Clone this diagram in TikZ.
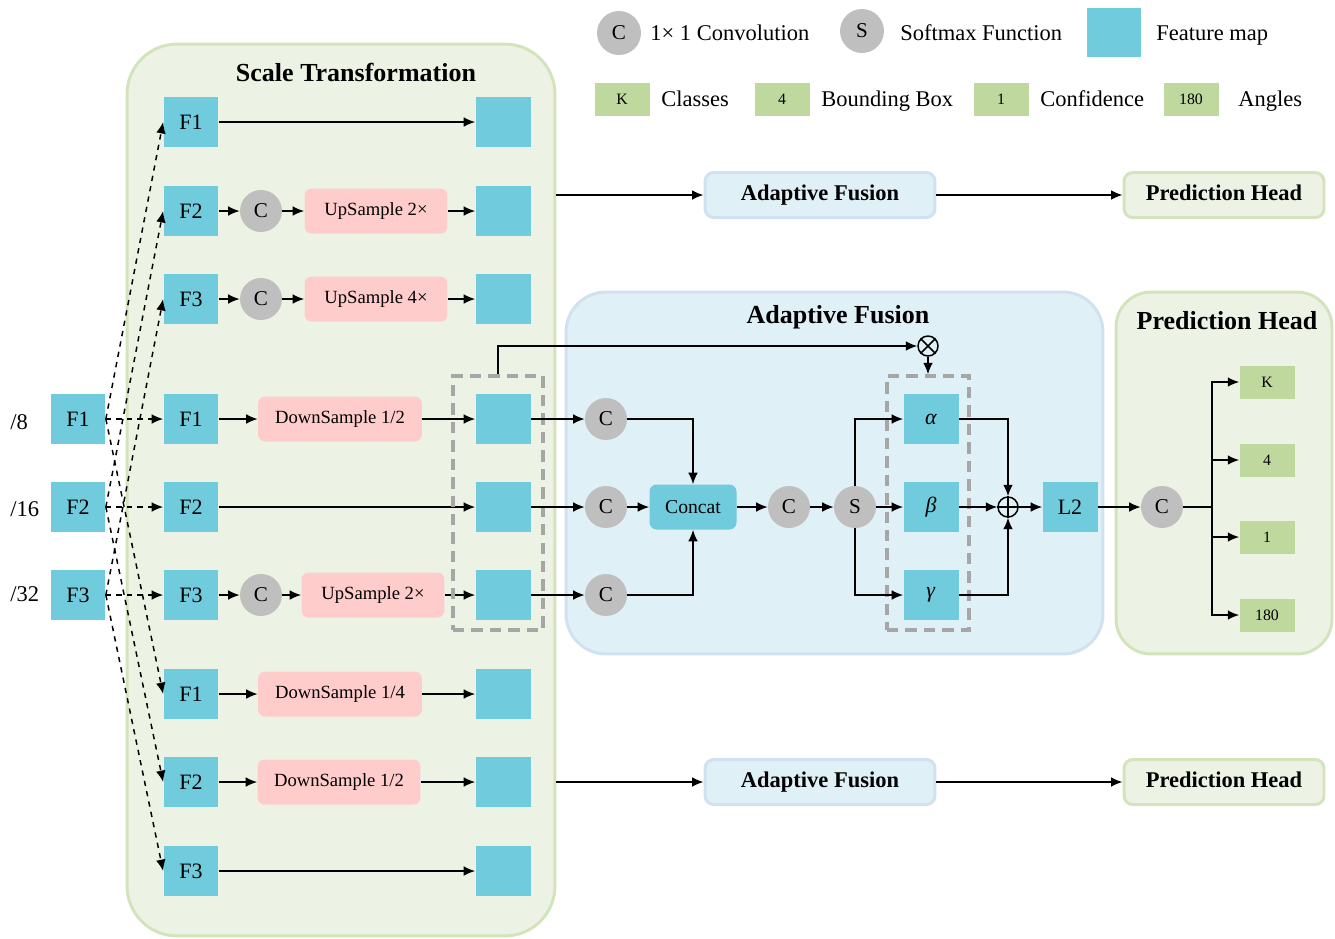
\documentclass[tikz,border=0pt]{standalone}
\usepackage{fontspec}
\setmainfont{Liberation Serif}
\usepackage{xcolor}
\usepackage{tikz}
\usetikzlibrary{arrows.meta,positioning,calc}
\definecolor{fmapc}{RGB}{112,203,220}
\definecolor{convc}{RGB}{191,191,191}
\definecolor{sampc}{RGB}{255,204,204}
\definecolor{outc}{RGB}{190,216,158}
\definecolor{stfill}{RGB}{237,243,228}
\definecolor{stedge}{RGB}{211,228,188}
\definecolor{affill}{RGB}{223,240,247}
\definecolor{afedge}{RGB}{208,226,240}
\definecolor{dashc}{RGB}{166,166,166}

\begin{document}
\begin{tikzpicture}[x=0.02cm,y=-0.02cm,
  fmap/.style={fill=fmapc,minimum width=1.1cm,minimum height=1cm,inner sep=0pt,font=\fontsize{12.5}{14}\selectfont},
  conv/.style={circle,fill=convc,minimum size=0.84cm,inner sep=0pt,font=\fontsize{12}{14}\selectfont},
  samp/.style={fill=sampc,rounded corners=4pt,minimum height=0.9cm,inner sep=0pt,font=\fontsize{10.6}{12}\selectfont},
  outb/.style={fill=outc,minimum width=1.1cm,minimum height=0.66cm,inner sep=0pt,font=\fontsize{9}{11}\selectfont},
  grp/.style={rounded corners=1cm,line width=1.7pt,inner sep=0pt},
  grptitle/.style={font=\fontsize{14.8}{17}\selectfont\bfseries},
  smallgrp/.style={rounded corners=5pt,line width=1.7pt,minimum height=0.9cm,inner sep=0pt,text height=0.68em,text depth=0.02em,font=\fontsize{12.8}{15}\selectfont\bfseries},
  txt/.style={font=\fontsize{12.8}{15}\selectfont,anchor=base west,inner sep=0pt},
  gbox/.style={draw=dashc,line width=2pt,dash pattern=on 6.5pt off 4pt,inner sep=0pt},
  op/.style={circle,draw,line width=0.85pt,minimum size=0.4cm,inner sep=0pt},
  arr/.style={-{Latex[length=6.5pt,width=5.5pt]},line width=0.85pt},
  dar/.style={arr,dashed}
]
  \useasboundingbox (0,0) rectangle (1335,938);

  % group boxes
  \node[grp,fill=stfill,draw=stedge,minimum width=8.56cm,minimum height=17.84cm] (st) at (341,490) {};
  \node[grp,rounded corners=0.8cm,fill=affill,draw=afedge,minimum width=10.74cm,minimum height=7.24cm] (afbig) at (834.5,473) {};
  \node[grp,rounded corners=0.7cm,fill=stfill,draw=stedge,minimum width=4.32cm,minimum height=7.24cm] (phbig) at (1224,473) {};
  \node[grptitle] (sttitle) at (356,72) {Scale Transformation};
  \node[grptitle] (aftitle) at (838,317) {Adaptive Fusion};
  \node[grptitle] (phtitle) at (1227,321) {Prediction Head};

  % legend
  \node[conv,minimum size=0.88cm] (lc) at (619,33) {C};
  \node[txt] (lctext) at (650,40) {1× 1 Convolution};
  \node[conv,minimum size=0.88cm] (ls) at (862,31) {S};
  \node[txt] (lstext) at (900,40) {Softmax Function};
  \node[fmap,minimum width=1.08cm,minimum height=0.98cm] (lf) at (1114,32.5) {};
  \node[txt] (lftext) at (1156,40) {Feature map};
  \node[outb] (lk) at (622,99) {K};
  \node[txt] (lktext) at (661,106) {Classes};
  \node[outb] (l4) at (782,99) {4};
  \node[txt] (l4text) at (821,106) {Bounding Box};
  \node[outb] (l1) at (1001,99) {1};
  \node[txt] (l1text) at (1040,106) {Confidence};
  \node[outb] (l180) at (1191,99) {180};
  \node[txt] (l180text) at (1238,106) {Angles};

  % input scales
  \node[txt] (d8) at (10,429) {/8};
  \node[txt] (d16) at (10,516) {/16};
  \node[txt] (d32) at (10,601) {/32};
  \node[fmap] (s1) at (78,419) {F1};
  \node[fmap] (s2) at (78,507) {F2};
  \node[fmap] (s3) at (78,595) {F3};

  % scale transformation rows
  \node[fmap] (f1a) at (191,122) {F1};
  \node[fmap] (f2a) at (191,211) {F2};
  \node[fmap] (f3a) at (191,299) {F3};
  \node[fmap] (f1b) at (191,419) {F1};
  \node[fmap] (f2b) at (191,507) {F2};
  \node[fmap] (f3b) at (191,595) {F3};
  \node[fmap] (f1c) at (191,694) {F1};
  \node[fmap] (f2c) at (191,782) {F2};
  \node[fmap] (f3c) at (191,871) {F3};

  \node[fmap] (o1a) at (503,122) {};
  \node[fmap] (o2a) at (503,211) {};
  \node[fmap] (o3a) at (503,299) {};
  \node[fmap] (o1b) at (503,419) {};
  \node[fmap] (o2b) at (503,507) {};
  \node[fmap] (o3b) at (503,595) {};
  \node[fmap] (o1c) at (503,694) {};
  \node[fmap] (o2c) at (503,782) {};
  \node[fmap] (o3c) at (503,871) {};

  \node[conv] (c2a) at (261,211) {C};
  \node[conv] (c3a) at (261,299) {C};
  \node[conv] (c3b) at (261,595) {C};
  \node[samp,minimum width=2.86cm] (up2a) at (376,211) {UpSample 2×};
  \node[samp,minimum width=2.86cm] (up4a) at (376,299) {UpSample 4×};
  \node[samp,minimum width=3.28cm] (dn2b) at (340,419) {DownSample 1/2};
  \node[samp,minimum width=2.86cm] (up2b) at (373,595) {UpSample 2×};
  \node[samp,minimum width=3.28cm] (dn4c) at (340,694) {DownSample 1/4};
  \node[samp,minimum width=3.26cm] (dn2c) at (339,782) {DownSample 1/2};

  \draw[arr] (f1a) -- (o1a);
  \draw[arr] (f2a) -- (c2a);
  \draw[arr] (c2a) -- (up2a);
  \draw[arr] (up2a) -- (o2a);
  \draw[arr] (f3a) -- (c3a);
  \draw[arr] (c3a) -- (up4a);
  \draw[arr] (up4a) -- (o3a);
  \draw[arr] (f1b) -- (dn2b);
  \draw[arr] (dn2b) -- (o1b);
  \draw[arr] (f2b) -- (o2b);
  \draw[arr] (f3b) -- (c3b);
  \draw[arr] (c3b) -- (up2b);
  \draw[arr] (up2b) -- (o3b);
  \draw[arr] (f1c) -- (dn4c);
  \draw[arr] (dn4c) -- (o1c);
  \draw[arr] (f2c) -- (dn2c);
  \draw[arr] (dn2c) -- (o2c);
  \draw[arr] (f3c) -- (o3c);

  % dashed inputs
  \draw[dar] (s1.east) -- (f1a.west);
  \draw[dar] (s1.east) -- (f1b.west);
  \draw[dar] (s1.east) -- (f1c.west);
  \draw[dar] (s2.east) -- (f2a.west);
  \draw[dar] (s2.east) -- (f2b.west);
  \draw[dar] (s2.east) -- (f2c.west);
  \draw[dar] (s3.east) -- (f3a.west);
  \draw[dar] (s3.east) -- (f3b.west);
  \draw[dar] (s3.east) -- (f3c.west);

  % upper and lower fusion paths
  \node[smallgrp,fill=affill,draw=afedge,minimum width=4.6cm] (af1) at (820,195) {Adaptive Fusion};
  \node[smallgrp,fill=stfill,draw=stedge,minimum width=4cm] (ph1) at (1224,195) {Prediction Head};
  \node[smallgrp,fill=affill,draw=afedge,minimum width=4.6cm] (af3) at (820,782) {Adaptive Fusion};
  \node[smallgrp,fill=stfill,draw=stedge,minimum width=4cm] (ph3) at (1224,782) {Prediction Head};
  \draw[arr] (st.east |- af1) -- (af1);
  \draw[arr] (af1) -- (ph1);
  \draw[arr] (st.east |- af3) -- (af3);
  \draw[arr] (af3) -- (ph3);

  % adaptive fusion
  \node[gbox,minimum width=1.8cm,minimum height=5.08cm] (db1) at (498,503) {};
  \node[gbox,minimum width=1.64cm,minimum height=5.08cm] (db2) at (928,503) {};
  \node[conv] (cf1) at (606,419) {C};
  \node[conv] (cf2) at (606,507) {C};
  \node[conv] (cf3) at (606,595) {C};
  \node[fill=fmapc,rounded corners=4pt,minimum width=1.74cm,minimum height=0.9cm,inner sep=0pt,font=\fontsize{11.2}{13}\selectfont] (cat) at (693,507) {Concat};
  \node[conv] (cm) at (789,507) {C};
  \node[conv] (sm) at (855,507) {S};
  \node[fmap] (al) at (931,419) {\textit{α}};
  \node[fmap] (be) at (931,507) {\textit{β}};
  \node[fmap] (ga) at (931,595) {\textit{γ}};
  \node[op] (sum) at (1008,507) {};
  \draw[line width=0.85pt] (sum.north) -- (sum.south) (sum.west) -- (sum.east);
  \node[op] (mul) at (928,346) {};
  \draw[line width=0.85pt] (mul.north west) -- (mul.south east) (mul.north east) -- (mul.south west);
  \node[fmap] (l2) at (1070,507) {L2};

  \draw[arr] (o1b) -- (cf1);
  \draw[arr] (o2b) -- (cf2);
  \draw[arr] (o3b) -- (cf3);
  \draw[arr] (cf1) -| (cat);
  \draw[arr] (cf2) -- (cat);
  \draw[arr] (cf3) -| (cat);
  \draw[arr] (cat) -- (cm);
  \draw[arr] (cm) -- (sm);
  \draw[arr] (sm) |- (al);
  \draw[arr] (sm) -- (be);
  \draw[arr] (sm) |- (ga);
  \draw[arr] (al) -| (sum);
  \draw[arr] (be) -- (sum);
  \draw[arr] (ga) -| (sum);
  \draw[arr] (sum) -- (l2);
  \draw[arr] (db1.north) |- (mul);
  \draw[arr] (mul) -- (db2.north);

  % prediction head
  \node[conv] (ch) at (1162,507) {C};
  \coordinate (br) at (1212,507);
  \node[outb] (ok) at (1267,382) {K};
  \node[outb] (o4) at (1267,460) {4};
  \node[outb] (o1) at (1267,537) {1};
  \node[outb] (o180) at (1267,615) {180};
  \draw[arr] (l2) -- (ch);
  \draw[line width=1.2pt] (ch) -- (br);
  \draw[arr] (br) |- (ok);
  \draw[arr] (br) |- (o4);
  \draw[arr] (br) |- (o1);
  \draw[arr] (br) |- (o180);
\end{tikzpicture}
\end{document}
